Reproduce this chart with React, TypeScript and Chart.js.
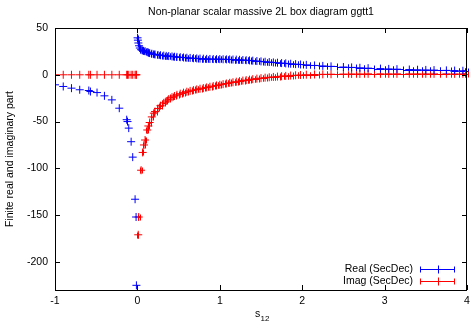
import React, { useEffect, useRef } from "react";
import { Chart, registerables } from "chart.js";

Chart.register(...registerables);

const TITLE = "Non-planar scalar massive 2L box diagram ggtt1";
const Y_TITLE = "Finite real and imaginary part";
const SERIES_NAMES = ["Real (SecDec)", "Imag (SecDec)"];
const SERIES_COLORS = ["#0000ff", "#ff0000"];

const xTicks = [-1, 0, 1, 2, 3, 4];
const yTicks = [50, 0, -50, -100, -150, -200];

// s12 < 0
const xNeg = [-1, -0.9, -0.8, -0.7, -0.59, -0.57, -0.49, -0.4, -0.31, -0.22, -0.13, -0.12, -0.105, -0.076, -0.057, -0.028, -0.016, -0.012];
const realNeg = [-10.7, -12.5, -14.3, -16, -16.8, -17.9, -19, -22.5, -26.8, -35.7, -48, -50, -57, -71.5, -88, -133, -152, -225];
const imagNeg = [0, 0, 0, 0, 0, 0, 0, 0, 0, 0, 0, 0, 0, 0, 0, 0, 0, 0];

// s12 just above 0 (series-specific samples)
const xRealHead = [0.002, 0.006, 0.012, 0.02, 0.03, 0.045, 0.06, 0.075];
const realHead = [39.5, 37, 34, 31, 28.6, 26.8, 26, 25.6];
const xImagHead = [0.01, 0.016, 0.045, 0.064, 0.08];
const imagHead = [-171, -152, -102, -83, -75];

// s12 > 0 (shared samples)
const xPos = [0.093, 0.12, 0.133, 0.149, 0.175, 0.2, 0.214, 0.25, 0.28, 0.32, 0.35, 0.38, 0.42, 0.45, 0.48, 0.52, 0.56, 0.6, 0.64, 0.68, 0.72, 0.76, 0.8, 0.84, 0.88, 0.92, 0.96, 1.0, 1.04, 1.08, 1.12, 1.16, 1.2, 1.24, 1.28, 1.32, 1.36, 1.4, 1.45, 1.5, 1.55, 1.6, 1.65, 1.7, 1.75, 1.8, 1.86, 1.92, 1.98, 2.05, 2.15, 2.25, 2.35, 2.5, 2.6, 2.7, 2.8, 2.95, 3.05, 3.15, 3.3, 3.4, 3.5, 3.6, 3.75, 3.85, 3.95, 4.0];
const realPos = [25.2, 24.2, 23.8, 23.2, 22.5, 22.0, 21.7, 21.2, 20.9, 20.5, 20.2, 20.0, 19.6, 19.3, 19.1, 18.8, 18.5, 18.2, 18.0, 17.7, 17.5, 17.3, 17.2, 17.0, 16.9, 16.8, 16.7, 16.7, 16.6, 16.5, 16.4, 16.3, 16.2, 16.0, 15.8, 15.6, 15.4, 15.1, 14.7, 14.3, 13.9, 13.6, 13.2, 12.9, 12.5, 12.2, 11.8, 11.4, 11.0, 10.6, 10.0, 9.5, 9.0, 8.3, 7.9, 7.5, 7.1, 6.6, 6.3, 6.0, 5.6, 5.4, 5.2, 5.0, 4.7, 4.5, 4.3, 4.2];
const imagPos = [-69.7, -59, -54.7, -51, -45, -41, -39.3, -36, -33, -30, -28, -26, -24, -22.7, -21.4, -20.2, -19.1, -18.1, -17.2, -16.4, -15.6, -14.9, -14.2, -13.5, -12.8, -12.1, -11.4, -10.7, -10.0, -9.3, -8.6, -8.0, -7.4, -6.8, -6.2, -5.7, -5.2, -4.7, -4.1, -3.6, -3.1, -2.7, -2.3, -1.9, -1.5, -1.2, -0.8, -0.5, -0.2, 0.1, 0.3, 0.5, 0.6, 0.8, 0.9, 0.9, 1.0, 1.0, 1.0, 1.0, 1.0, 1.0, 1.0, 1.0, 1.0, 1.0, 1.0, 1.0];

const FONT = "'Liberation Sans', Arial, sans-serif";

function toPoints(xs: number[], ys: number[]) {
  return xs.map((x, i) => ({ x, y: ys[i] }));
}

// horizontal error bars (x>0 bins) as in gnuplot xerrorbars
const errBarPlugin = {
  id: "errbars",
  afterDatasetsDraw(chart: any) {
    const { ctx } = chart;
    ctx.save();
    ctx.lineWidth = 1;
    chart.data.datasets.forEach((ds: any, di: number) => {
      const meta = chart.getDatasetMeta(di);
      const pts = meta.data;
      ctx.strokeStyle = ds.borderColor;
      ctx.beginPath();
      for (let i = 0; i < pts.length; i++) {
        if (ds.data[i].x <= 0) continue;
        const p = pts[i];
        const prevOk = i > 0 && ds.data[i - 1].x > 0;
        const nextOk = i < pts.length - 1;
        const l = prevOk ? (pts[i - 1].x + p.x) / 2 : p.x - 1;
        const r = nextOk ? (pts[i + 1].x + p.x) / 2 : p.x + 1;
        const y = Math.round(p.y) + 0.5;
        ctx.moveTo(l, y);
        ctx.lineTo(r, y);
        ctx.moveTo(Math.round(l) + 0.5, y - 3);
        ctx.lineTo(Math.round(l) + 0.5, y + 3);
        ctx.moveTo(Math.round(r) + 0.5, y - 3);
        ctx.lineTo(Math.round(r) + 0.5, y + 3);
      }
      ctx.stroke();
    });
    ctx.restore();
  },
};

const decorPlugin = {
  id: "decor",
  afterDraw(chart: any) {
    const { ctx, chartArea: a, scales } = chart;
    const xs = scales.x;
    const ys = scales.y;
    ctx.save();
    ctx.strokeStyle = "#000";
    ctx.lineWidth = 1;
    ctx.strokeRect(a.left + 0.5, a.top + 0.5, a.right - a.left - 1, a.bottom - a.top);
    const tl = 5;
    ctx.beginPath();
    xTicks.forEach((v) => {
      const p = Math.round(xs.getPixelForValue(v)) + 0.5;
      ctx.moveTo(p, a.bottom);
      ctx.lineTo(p, a.bottom - tl);
      ctx.moveTo(p, a.top);
      ctx.lineTo(p, a.top + tl);
    });
    yTicks.forEach((v) => {
      const p = Math.round(ys.getPixelForValue(v)) + 0.5;
      ctx.moveTo(a.left, p);
      ctx.lineTo(a.left + tl, p);
      ctx.moveTo(a.right, p);
      ctx.lineTo(a.right - tl, p);
    });
    ctx.stroke();

    ctx.fillStyle = "#000";
    ctx.font = `10.5px ${FONT}`;
    ctx.textAlign = "right";
    ctx.textBaseline = "middle";
    yTicks.forEach((v) => {
      ctx.fillText(String(v), a.left - 7, ys.getPixelForValue(v));
    });
    ctx.textAlign = "center";
    xTicks.forEach((v) => {
      ctx.fillText(String(v), xs.getPixelForValue(v), a.bottom + 11);
    });

    ctx.fillText(TITLE, (a.left + a.right) / 2, 12.5);

    ctx.save();
    ctx.translate(10, (a.top + a.bottom) / 2);
    ctx.rotate(-Math.PI / 2);
    ctx.fillText(Y_TITLE, 0, 0);
    ctx.restore();

    ctx.textAlign = "left";
    ctx.textBaseline = "alphabetic";
    const cx = (a.left + a.right) / 2;
    ctx.fillText("s", cx - 6, 317);
    ctx.font = `8px ${FONT}`;
    ctx.fillText("12", cx - 0.5, 321);

    ctx.font = `10.5px ${FONT}`;
    ctx.textAlign = "right";
    ctx.textBaseline = "middle";
    SERIES_NAMES.forEach((name, i) => {
      const y = 269 + i * 12;
      ctx.fillStyle = "#000";
      ctx.fillText(name, 413, y);
      ctx.strokeStyle = SERIES_COLORS[i];
      ctx.beginPath();
      const yy = Math.round(y) + 0.5;
      ctx.moveTo(420, yy);
      ctx.lineTo(455, yy);
      ctx.moveTo(420.5, yy - 3);
      ctx.lineTo(420.5, yy + 3);
      ctx.moveTo(454.5, yy - 3);
      ctx.lineTo(454.5, yy + 3);
      ctx.moveTo(438.5, yy - 4);
      ctx.lineTo(438.5, yy + 4);
      ctx.stroke();
    });
    ctx.restore();
  },
};

export default function App() {
  const ref = useRef<HTMLCanvasElement | null>(null);
  useEffect(() => {
    if (!ref.current) return;
    const mk = (label: string, color: string, pts: { x: number; y: number }[]) => ({
      label,
      data: pts,
      borderColor: color,
      backgroundColor: color,
      pointStyle: "cross",
      pointRadius: 4,
      pointBorderWidth: 1,
      borderWidth: 1,
      showLine: false,
    });
    const chart = new Chart(ref.current, {
      type: "scatter",
      data: {
        datasets: [
          mk(SERIES_NAMES[0], SERIES_COLORS[0], [
            ...toPoints(xNeg, realNeg),
            ...toPoints(xRealHead, realHead),
            ...toPoints(xPos, realPos),
          ]),
          mk(SERIES_NAMES[1], SERIES_COLORS[1], [
            ...toPoints(xNeg, imagNeg),
            ...toPoints(xImagHead, imagHead),
            ...toPoints(xPos, imagPos),
          ]),
        ] as any,
      },
      options: {
        animation: false,
        responsive: false,
        layout: { padding: { top: 28, right: 3, left: 0, bottom: 0 } },
        plugins: { legend: { display: false }, tooltip: { enabled: false }, title: { display: false } },
        scales: {
          x: {
            type: "linear",
            min: -1,
            max: 4,
            grid: { display: false, drawTicks: false },
            border: { display: false },
            ticks: { display: false },
            afterFit: (s: any) => { s.height = 32; },
          },
          y: {
            type: "linear",
            min: -230,
            max: 50,
            grid: { display: false, drawTicks: false },
            border: { display: false },
            ticks: { display: false },
            afterFit: (s: any) => { s.width = 55; },
          },
        },
      } as any,
      plugins: [errBarPlugin, decorPlugin],
    });
    return () => chart.destroy();
  }, []);
  return (
    <div style={{ position: "absolute", left: 0, top: 0, width: 472, height: 322, background: "#fff" }}>
      <canvas ref={ref} width={472} height={322} style={{ display: "block" }} />
    </div>
  );
}
